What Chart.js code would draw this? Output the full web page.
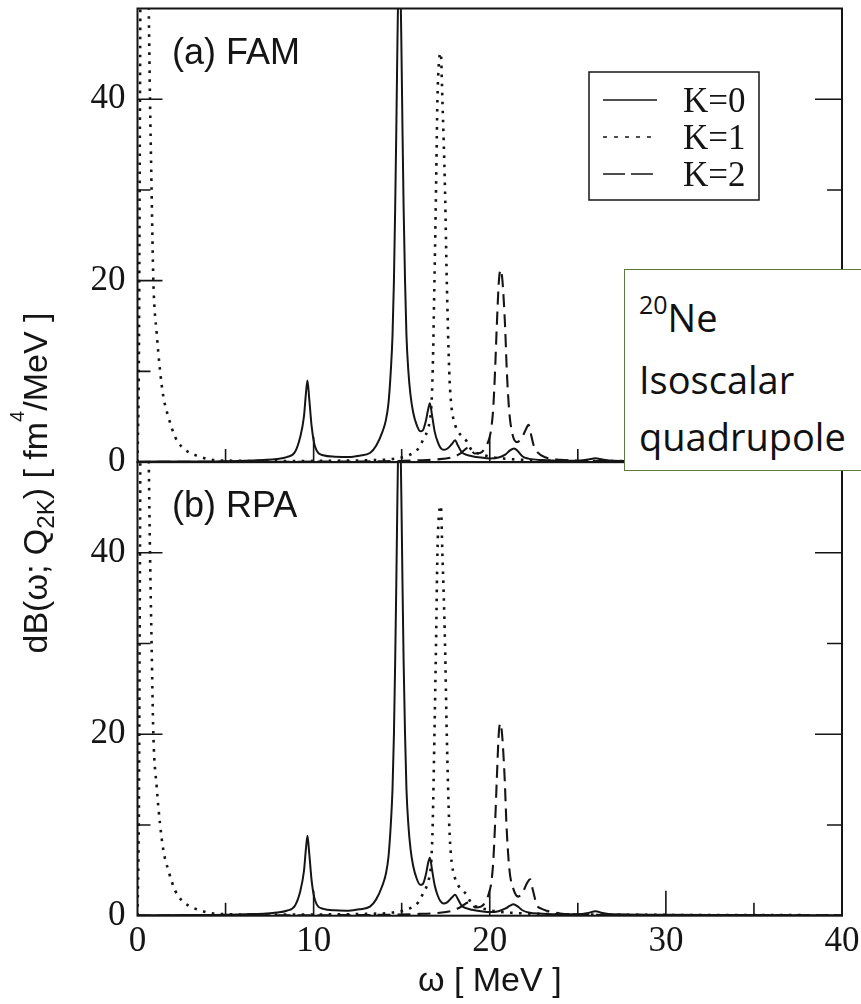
<!DOCTYPE html>
<html>
<head>
<meta charset="utf-8">
<script src="https://cdn.jsdelivr.net/npm/chart.js@4.4.1/dist/chart.umd.min.js"></script>
<style>
html,body{margin:0;padding:0;background:#fff;overflow:hidden;}
#wrap{position:relative;width:861px;height:1004px;overflow:hidden;}
#c{position:absolute;left:0;top:0;}
#note{position:absolute;left:624px;top:269px;width:270px;height:202px;box-sizing:border-box;
  border:1.5px solid #5a7a3c;background:#fff;font-family:'Open Sans','Noto Sans',sans-serif;
  font-size:38px;line-height:57px;color:#111;padding:19px 0 0 14px;}
#note .sup{font-size:25px;position:relative;top:-18px;}
</style>
</head>
<body>
<div id="wrap">
<canvas id="c" width="861" height="1004"></canvas>
<div id="note"><div><span class="sup">20</span>Ne</div><div>Isoscalar</div><div>quadrupole</div></div>
</div>
<script>
// ---- data: [omega (MeV), dB/dω (fm^4/MeV)] ----
const K0_FAM = [[0,0.05],[3,0.07],[5,0.1],[6.5,0.18],[7.3,0.25],[7.9,0.35],[8.47,0.55],[8.94,1.1],[9.23,2.7],[9.45,5.0],[9.56,7.5],[9.65,9.0],[9.75,7.0],[9.89,3.9],[10.08,1.7],[10.55,0.75],[11.2,0.6],[12.0,0.55],[12.6,0.7],[13.2,1.0],[13.55,1.8],[13.9,3.3],[14.1,4.6],[14.25,6.5],[14.38,10],[14.48,14],[14.56,20],[14.63,28],[14.69,36],[14.75,45],[14.81,53],[14.87,58],[14.93,53],[14.99,45],[15.05,36],[15.11,28],[15.19,20],[15.27,14],[15.38,10],[15.5,7.4],[15.65,5.5],[15.85,4.1],[16.05,3.4],[16.2,3.5],[16.38,4.6],[16.5,5.8],[16.6,6.5],[16.72,5.2],[16.88,3.3],[17.05,2.2],[17.2,1.6],[17.37,1.35],[17.6,1.5],[17.85,2.0],[18.03,2.4],[18.2,1.8],[18.41,1.1],[18.7,0.8],[19.0,0.65],[19.5,0.5],[20.0,0.4],[20.5,0.5],[20.9,0.85],[21.15,1.3],[21.38,1.5],[21.6,1.2],[21.85,0.65],[22.2,0.38],[23,0.22],[24,0.15],[25,0.15],[25.6,0.28],[26,0.42],[26.4,0.28],[27,0.15],[30,0.1],[35,0.07],[40,0.05]];
const K1_FAM = [[0,0],[0.08,12],[0.14,40],[0.2,70],[0.4,95],[0.6,56],[0.65,48.5],[0.71,40],[0.8,30],[0.9,20],[1.09,14.2],[1.28,10.1],[1.47,7.2],[1.75,5.0],[2.13,2.8],[2.5,1.7],[2.9,1.1],[3.55,0.6],[4.1,0.3],[5.4,0.15],[7,0.12],[9,0.12],[11,0.15],[13,0.2],[14.5,0.35],[15.4,0.75],[15.95,1.5],[16.25,2.6],[16.45,3.4],[16.6,4.6],[16.68,6.0],[16.76,10],[16.86,20],[16.95,30],[17.03,40],[17.12,44.2],[17.22,45.1],[17.31,40],[17.46,30],[17.56,20],[17.7,10],[17.8,6.6],[17.93,4.8],[18.05,4.0],[18.22,3.3],[18.45,2.8],[18.69,2.3],[18.98,1.3],[19.45,0.9],[20,0.6],[21,0.35],[22,0.25],[24,0.15],[28,0.1],[40,0.05]];
const K2_FAM = [[0,0.02],[5,0.03],[10,0.05],[14,0.1],[16,0.2],[17,0.3],[17.8,0.5],[18.3,0.9],[18.8,1.6],[19.15,0.95],[19.45,1.0],[19.75,1.6],[20.0,2.8],[20.1,3.9],[20.2,6.0],[20.3,10],[20.4,15],[20.52,20],[20.62,21.2],[20.72,20],[20.87,15],[20.97,10],[21.11,5.5],[21.3,3.0],[21.55,2.2],[21.8,2.6],[22.05,3.6],[22.2,4.1],[22.35,3.0],[22.5,1.8],[22.7,1.1],[23.2,0.5],[24,0.25],[25,0.15],[27,0.1],[30,0.08],[40,0.05]];

const K0_RPA = [[0,0.05],[3,0.07],[5,0.1],[6.5,0.18],[7.3,0.25],[7.9,0.35],[8.47,0.55],[8.94,1.1],[9.23,2.6],[9.45,4.9],[9.56,7.3],[9.65,8.8],[9.75,6.9],[9.89,3.8],[10.08,1.7],[10.55,0.75],[11.2,0.6],[12.0,0.55],[12.6,0.7],[13.2,1.0],[13.55,1.8],[13.9,3.3],[14.1,4.6],[14.25,6.5],[14.38,10],[14.48,14],[14.56,20],[14.63,28],[14.69,36],[14.75,45],[14.81,53],[14.87,58],[14.93,53],[14.99,45],[15.05,36],[15.11,28],[15.19,20],[15.27,14],[15.38,10],[15.5,7.4],[15.65,5.5],[15.85,4.1],[16.05,3.4],[16.2,3.5],[16.38,4.6],[16.5,5.8],[16.6,6.4],[16.72,5.1],[16.88,3.3],[17.05,2.2],[17.2,1.6],[17.37,1.35],[17.6,1.5],[17.85,2.0],[18.03,2.3],[18.2,1.8],[18.41,1.1],[18.7,0.8],[19.0,0.65],[19.5,0.5],[20.0,0.4],[20.5,0.5],[20.9,0.8],[21.15,1.1],[21.34,1.25],[21.6,1.0],[21.85,0.6],[22.2,0.35],[23,0.22],[24,0.15],[25,0.15],[25.6,0.3],[26,0.5],[26.4,0.3],[27,0.15],[30,0.1],[35,0.07],[40,0.05]];
const K1_RPA = [[0,0],[0.08,12],[0.14,40],[0.2,70],[0.4,95],[0.6,56],[0.65,48.5],[0.71,40],[0.8,30],[0.9,20],[1.09,14.2],[1.28,10.1],[1.47,7.2],[1.75,5.0],[2.13,2.8],[2.5,1.7],[2.9,1.1],[3.55,0.6],[4.1,0.3],[5.4,0.15],[7,0.12],[9,0.12],[11,0.15],[13,0.2],[14.5,0.35],[15.4,0.75],[15.95,1.5],[16.25,2.6],[16.45,3.4],[16.6,4.6],[16.68,6.0],[16.76,10],[16.86,20],[16.95,30],[17.03,40],[17.12,44.3],[17.22,45.2],[17.31,40],[17.46,30],[17.56,20],[17.7,10],[17.8,6.6],[17.93,4.8],[18.05,4.0],[18.22,3.3],[18.45,2.8],[18.69,2.3],[18.98,1.3],[19.45,0.9],[20,0.6],[21,0.35],[22,0.25],[24,0.15],[28,0.1],[40,0.05]];
const K2_RPA = [[0,0.02],[5,0.03],[10,0.05],[14,0.1],[16,0.2],[17,0.3],[17.8,0.5],[18.3,0.9],[18.85,1.5],[19.2,0.9],[19.5,1.0],[19.78,1.6],[20.0,2.8],[20.1,3.8],[20.2,6.0],[20.3,10],[20.4,15],[20.51,20],[20.6,21.2],[20.7,20],[20.85,15],[20.95,10],[21.11,5.2],[21.35,2.9],[21.62,2.1],[21.9,2.7],[22.12,3.6],[22.29,4.0],[22.45,2.8],[22.67,1.2],[22.9,0.8],[23.23,0.55],[24,0.25],[25,0.15],[27,0.1],[30,0.08],[40,0.05]];

const seriesLabels = ['K=0','K=1','K=2'];
const panelLabels = ['(a) FAM','(b) RPA'];
const xTickLabels = [0,10,20,30,40];
const yTickLabels = [0,20,40];
const xMajorTicks = [10,20,30];
const xMinorTicks = [5,15,25,35];
const yMajorTicks = [20,40];
const yMinorTicks = [10,30];

// ---- styles ----
const INK = '#151515';
const lineStyle = [
  {dash:[], width:2},
  {dash:[2.6,6.4], width:2.6},
  {dash:[13,7], width:2.1}
];
const legendDash = [[], [4,7], [22,6]];
const toPts = a => a.map(p => ({x:p[0], y:p[1]}));
function ds(data, k, axis){
  return {label:seriesLabels[k], data:toPts(data), yAxisID:axis, borderColor:INK,
    borderWidth:lineStyle[k].width, borderDash:lineStyle[k].dash, pointRadius:0,
    cubicInterpolationMode:'monotone', fill:false};
}

const overlay = {
  id:'overlay',
  beforeDatasetDraw(chart, args){
    const ys = chart.scales[args.meta.yAxisID], ca = chart.chartArea, ctx = chart.ctx;
    ctx.save(); ctx.beginPath(); ctx.rect(ca.left, ys.top, ca.right-ca.left, ys.bottom-ys.top); ctx.clip();
  },
  afterDatasetDraw(chart){ chart.ctx.restore(); },
  afterDraw(chart){
    const ctx = chart.ctx, ca = chart.chartArea, xs = chart.scales.x;
    const panels = [chart.scales.yFAM, chart.scales.yRPA];
    ctx.save();
    ctx.strokeStyle = INK; ctx.fillStyle = INK; ctx.lineCap = 'butt';
    panels.forEach((ys, i) => {
      ctx.lineWidth = 2; ctx.setLineDash([]);
      ctx.strokeRect(ca.left, ys.top, ca.right-ca.left, ys.bottom-ys.top);
      ctx.lineWidth = 1.6;
      ctx.beginPath();
      xMajorTicks.forEach(v => { const px = xs.getPixelForValue(v); ctx.moveTo(px, ys.bottom); ctx.lineTo(px, ys.bottom-25); });
      xMinorTicks.forEach(v => { const px = xs.getPixelForValue(v); ctx.moveTo(px, ys.bottom); ctx.lineTo(px, ys.bottom-13); });
      yMajorTicks.forEach(v => { const py = ys.getPixelForValue(v); ctx.moveTo(ca.left, py); ctx.lineTo(ca.left+25, py); ctx.moveTo(ca.right, py); ctx.lineTo(ca.right-27, py); });
      yMinorTicks.forEach(v => { const py = ys.getPixelForValue(v); ctx.moveTo(ca.left, py); ctx.lineTo(ca.left+13, py); ctx.moveTo(ca.right, py); ctx.lineTo(ca.right-15, py); });
      ctx.stroke();
      ctx.font = "36px 'Liberation Sans', Arial, sans-serif";
      ctx.textBaseline = 'alphabetic'; ctx.textAlign = 'left';
      ctx.fillText(panelLabels[i], 172, ys.top + 55);
    });
    // legend
    const lx = 589, ly = 72, lw = 170, lh = 128;
    ctx.lineWidth = 1.5; ctx.setLineDash([]);
    ctx.strokeRect(lx, ly, lw, lh);
    const rows = [100, 137, 174];
    ctx.font = "35px 'Liberation Serif', 'Times New Roman', serif";
    rows.forEach((ry, k) => {
      ctx.lineWidth = 1.6; ctx.setLineDash(legendDash[k]);
      ctx.beginPath(); ctx.moveTo(603, ry); ctx.lineTo(657, ry); ctx.stroke();
      ctx.setLineDash([]);
      ctx.fillText(seriesLabels[k], 683, ry + 12);
    });
    // y axis title (rotated)
    const segs = [
      {t:'dB(ω; Q', s:34, dy:0}, {t:'2K', s:24, dy:7}, {t:') [ fm', s:34, dy:0},
      {t:'4', s:20, dy:-23}, {t:'/MeV ]', s:34, dy:0}
    ];
    let total = 0;
    segs.forEach(g => { ctx.font = g.s + "px 'Liberation Sans', Arial, sans-serif"; g.w = ctx.measureText(g.t).width; total += g.w; });
    ctx.translate(37, 483); ctx.rotate(-Math.PI/2);
    let xx = -total/2;
    segs.forEach(g => { ctx.font = g.s + "px 'Liberation Sans', Arial, sans-serif"; ctx.fillText(g.t, xx, 10 + g.dy); xx += g.w; });
    ctx.restore();
  }
};

const yAxis = (w) => ({
  type:'linear', position:'left', stack:'panels', stackWeight:1, weight:w, min:0, max:50,
  afterFit: s => { s.width = 137.5; s.paddingTop = 0; s.paddingBottom = 0; s.paddingLeft = 0; s.paddingRight = 0; },
  grid:{display:false, drawTicks:false}, border:{display:false},
  ticks:{stepSize:20, padding:12, color:INK, font:{family:"'Liberation Serif', 'Times New Roman', serif", size:35},
    callback: v => yTickLabels.includes(v) ? String(v) : null}
});

new Chart(document.getElementById('c'), {
  type:'line',
  data:{datasets:[
    ds(K0_FAM,0,'yFAM'), ds(K1_FAM,1,'yFAM'), ds(K2_FAM,2,'yFAM'),
    ds(K0_RPA,0,'yRPA'), ds(K1_RPA,1,'yRPA'), ds(K2_RPA,2,'yRPA')
  ]},
  options:{
    responsive:false, animation:false, events:[],
    layout:{autoPadding:false, padding:{left:0, top:8.5, right:19, bottom:0}},
    plugins:{legend:{display:false}, tooltip:{enabled:false}, title:{display:false}},
    scales:{
      x:{type:'linear', position:'bottom', min:0, max:40,
        afterFit: s => { s.height = 88.3; s.paddingTop = 0; s.paddingBottom = 0; s.paddingLeft = 0; s.paddingRight = 0; },
        grid:{display:false, drawTicks:false}, border:{display:false},
        ticks:{stepSize:10, padding:5, color:INK, maxRotation:0, autoSkip:false,
          font:{family:"'Liberation Serif', 'Times New Roman', serif", size:35},
          callback: v => xTickLabels.includes(v) ? String(v) : null},
        title:{display:true, text:'ω [ MeV ]', color:INK, padding:{top:2, bottom:2},
          font:{family:"'Liberation Sans', Arial, sans-serif", size:34}}
      },
      yFAM: yAxis(1),
      yRPA: yAxis(0)
    }
  },
  plugins:[overlay]
});
</script>
</body>
</html>
